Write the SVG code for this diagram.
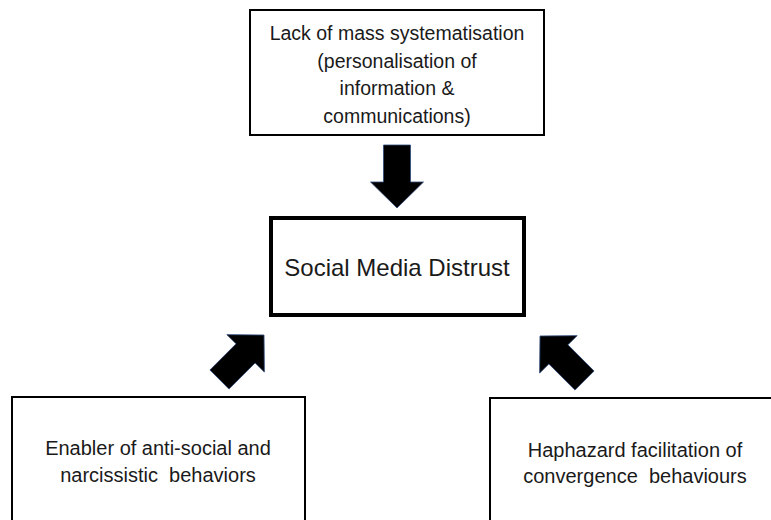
<svg xmlns="http://www.w3.org/2000/svg" width="771" height="520" viewBox="0 0 771 520">
<style>
.box{fill:#fff;stroke:#000;stroke-width:2}
.main{fill:#fff;stroke:#000;stroke-width:4}
.t{font-family:"Liberation Sans",Arial,sans-serif;fill:#1a1a1a;text-anchor:middle}
.s{font-size:19.5px}
.b{font-size:20px}
.arr{fill:#000;stroke:#2f4a7a;stroke-width:0.8}
</style>
<defs>
<path id="arrow" d="M0,0 L26.5,26 L13.5,26 L13.5,63 L-13.5,63 L-13.5,26 L-26.5,26 Z"/>
</defs>
<rect width="771" height="520" fill="#fff"/>
<g id="connectors">
<use href="#arrow" class="arr" transform="translate(397,208) rotate(180)"/>
<use href="#arrow" class="arr" transform="translate(264,335) rotate(45)"/>
<use href="#arrow" class="arr" transform="translate(540,336) rotate(-45)"/>
</g>
<g id="node-top">
<rect class="box" x="250" y="10" width="294" height="125"/>
<text class="t s" x="397" y="40">Lack of mass systematisation</text>
<text class="t s" x="397" y="68">(personalisation of</text>
<text class="t s" x="397" y="95">information &amp;</text>
<text class="t s" x="397" y="123">communications)</text>
</g>
<g id="node-center">
<rect class="main" x="271" y="218" width="253" height="97"/>
<text class="t" font-size="24" x="397" y="276">Social Media Distrust</text>
</g>
<g id="node-left">
<rect class="box" x="12" y="397" width="293" height="140"/>
<text class="t b" x="158" y="455">Enabler of anti-social and</text>
<text class="t b" x="158" y="482" xml:space="preserve">narcissistic  behaviors</text>
</g>
<g id="node-right">
<rect class="box" x="490" y="398" width="300" height="140"/>
<text class="t b" x="635" y="457">Haphazard facilitation of</text>
<text class="t b" x="635" y="483" xml:space="preserve">convergence  behaviours</text>
</g>
</svg>
